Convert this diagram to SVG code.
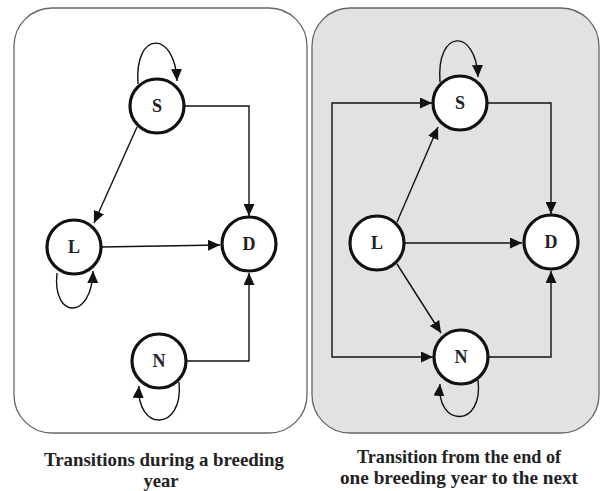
<svg xmlns="http://www.w3.org/2000/svg" width="601" height="491" viewBox="0 0 601 491">
<defs>
<marker id="ah" markerUnits="userSpaceOnUse" markerWidth="13" markerHeight="11" refX="12" refY="5.5" orient="auto">
<path d="M0,0 L12,5.5 L0,11 Z" fill="#111"/>
</marker>
<style>
.panel{stroke:#666;stroke-width:1.3}
.node circle{fill:#fff;stroke:#111;stroke-width:3.2}
.node text{font-family:"Liberation Serif","Times New Roman",serif;font-weight:bold;font-size:18px;fill:#222;text-anchor:middle}
.edge{fill:none;stroke:#111;stroke-width:1.4;marker-end:url(#ah)}
.cap{font-family:"Liberation Serif","Times New Roman",serif;font-weight:bold;font-size:19px;fill:#222;text-anchor:middle}
</style>
</defs>
<rect class="panel" x="14" y="8" width="293" height="425" rx="38" ry="38" fill="#fff"/>
<rect class="panel" x="312" y="8" width="287" height="425" rx="38" ry="38" fill="#e2e2e4"/>
<g id="connectors">
<path class="edge" d="M184,106 H249 V216"/>
<path class="edge" d="M137,127 L94,223"/>
<path class="edge" d="M101,247 L220,245"/>
<path class="edge" d="M187,361 H249 V273"/>
<path class="edge" d="M138,84 C134,30 175,30 177,81"/>
<path class="edge" d="M57,273 C52,320 92,320 93,271"/>
<path class="edge" d="M179,382 C184,432 136,432 139,386"/>
<path class="edge" d="M487,103 H551 V214"/>
<path class="edge" d="M405,243 H522"/>
<path class="edge" d="M397,222 L438,127"/>
<path class="edge" d="M397,264 L441,333"/>
<path class="edge" d="M489,357 H551 V271"/>
<path class="edge" d="M332,230 V103 H432"/>
<path class="edge" d="M332,230 V357 H433"/>
<path class="edge" d="M440,82 C436,28 476,28 478,77"/>
<path class="edge" d="M478,380 C484,428 436,428 440,384"/>
</g>
<g id="left-S" class="node"><circle cx="157" cy="106" r="27"/><text x="157" y="112">S</text></g>
<g id="left-L" class="node"><circle cx="74" cy="247" r="27"/><text x="74" y="253">L</text></g>
<g id="left-D" class="node"><circle cx="249" cy="244" r="27"/><text x="249" y="250">D</text></g>
<g id="left-N" class="node"><circle cx="159" cy="361" r="27"/><text x="159" y="367">N</text></g>
<g id="right-S" class="node"><circle cx="460" cy="103" r="27"/><text x="460" y="109">S</text></g>
<g id="right-L" class="node"><circle cx="377" cy="243" r="27"/><text x="377" y="249">L</text></g>
<g id="right-D" class="node"><circle cx="551" cy="242" r="27"/><text x="551" y="248">D</text></g>
<g id="right-N" class="node"><circle cx="461" cy="357" r="27"/><text x="461" y="363">N</text></g>
<text class="cap" x="164" y="466" textLength="240" lengthAdjust="spacingAndGlyphs">Transitions during a breeding</text>
<text class="cap" x="161" y="487" textLength="35" lengthAdjust="spacingAndGlyphs">year</text>
<text class="cap" x="459" y="463" textLength="204" lengthAdjust="spacingAndGlyphs">Transition from the end of</text>
<text class="cap" x="459" y="484" textLength="238" lengthAdjust="spacingAndGlyphs">one breeding year to the next</text>
</svg>
